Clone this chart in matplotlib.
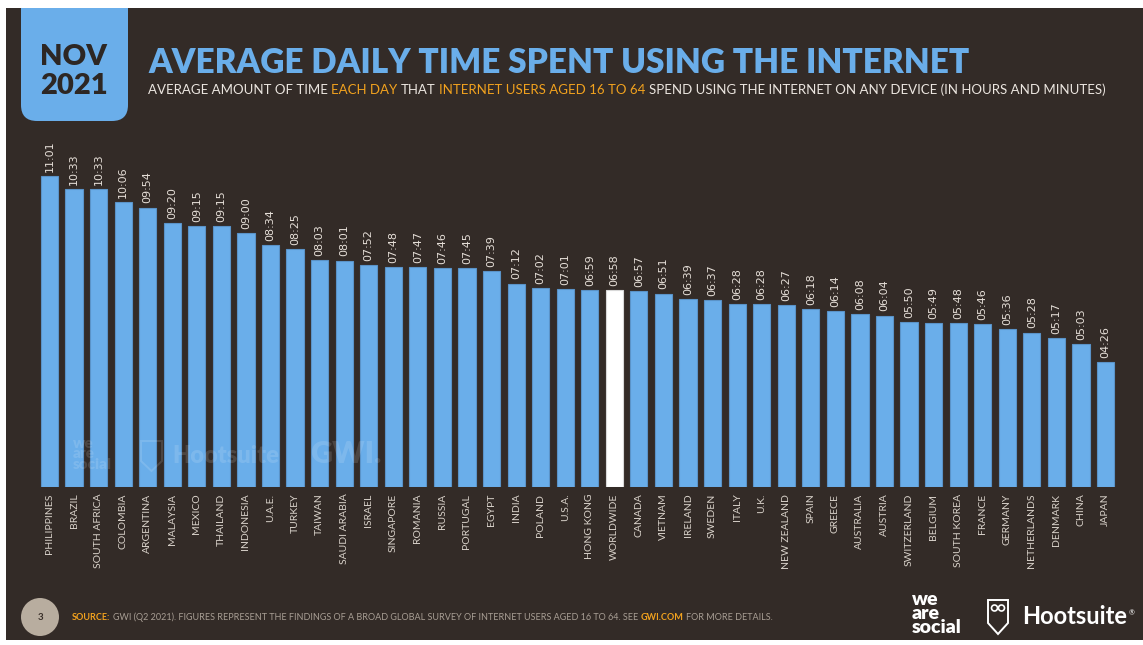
import matplotlib
matplotlib.use('Agg')
import matplotlib.pyplot as plt
from matplotlib.patches import Rectangle, FancyBboxPatch, Circle, Polygon

# data
countries = ['PHILIPPINES', 'BRAZIL', 'SOUTH AFRICA', 'COLOMBIA', 'ARGENTINA', 'MALAYSIA',
             'MEXICO', 'THAILAND', 'INDONESIA', 'U.A.E.', 'TURKEY', 'TAIWAN', 'SAUDI ARABIA',
             'ISRAEL', 'SINGAPORE', 'ROMANIA', 'RUSSIA', 'PORTUGAL', 'EGYPT', 'INDIA', 'POLAND',
             'U.S.A.', 'HONG KONG', 'WORLDWIDE', 'CANADA', 'VIETNAM', 'IRELAND', 'SWEDEN',
             'ITALY', 'U.K.', 'NEW ZEALAND', 'SPAIN', 'GREECE', 'AUSTRALIA', 'AUSTRIA',
             'SWITZERLAND', 'BELGIUM', 'SOUTH KOREA', 'FRANCE', 'GERMANY', 'NETHERLANDS',
             'DENMARK', 'CHINA', 'JAPAN']
times = ['11:01', '10:33', '10:33', '10:06', '09:54', '09:20', '09:15', '09:15', '09:00',
         '08:34', '08:25', '08:03', '08:01', '07:52', '07:48', '07:47', '07:46', '07:45',
         '07:39', '07:12', '07:02', '07:01', '06:59', '06:58', '06:57', '06:51', '06:39',
         '06:37', '06:28', '06:28', '06:27', '06:18', '06:14', '06:08', '06:04', '05:50',
         '05:49', '05:48', '05:46', '05:36', '05:28', '05:17', '05:03', '04:26']
highlight = 'WORLDWIDE'

title = 'AVERAGE DAILY TIME SPENT USING THE INTERNET'
subtitle_parts = [('AVERAGE AMOUNT OF TIME', 'w'), ('EACH DAY', 'o'), ('THAT', 'w'),
                  ('INTERNET USERS AGED 16 TO 64', 'o'),
                  ('SPEND USING THE INTERNET ON ANY DEVICE (IN HOURS AND MINUTES)', 'w')]
source_parts = [('SOURCE:', 'o'),
                ('GWI (Q2 2021). FIGURES REPRESENT THE FINDINGS OF A BROAD GLOBAL SURVEY OF '
                 'INTERNET USERS AGED 16 TO 64. SEE', 'g'),
                ('GWI.COM', 'o'), ('FOR MORE DETAILS.', 'g')]

minutes = [int(t[:2]) * 60 + int(t[3:]) for t in times]

W, H = 1143, 645
BG = '#332b27'
BLUE = '#6aaeea'
ORANGE = '#f2a21e'
LIGHT = '#e6dfd8'
GREY = '#a89e94'
NARROW = ['Liberation Sans Narrow', 'DejaVu Sans Condensed', 'DejaVu Sans']
SANS = ['Lato', 'DejaVu Sans']
cmap = {'w': '#ece6e0', 'o': ORANGE, 'g': GREY}

fig = plt.figure(figsize=(W / 100, H / 100), dpi=100)
fig.patch.set_facecolor('white')

# background layer in pixel coordinates
back = fig.add_axes([0, 0, 1, 1], zorder=0)
back.set_xlim(0, W)
back.set_ylim(H, 0)
back.axis('off')
back.add_patch(Rectangle((6, 8), W - 6, 632, facecolor=BG, edgecolor='none'))
back.add_patch(FancyBboxPatch((21, -40), 107, 161, boxstyle='round,pad=0,rounding_size=16',
                              facecolor=BLUE, edgecolor='none'))
back.add_patch(Rectangle((0, 0), W, 8, facecolor='white', edgecolor='none'))
back.text(74, 57, 'NOV', ha='center', va='center', fontsize=21, fontweight='heavy',
          family=SANS, color='#2d2724')
back.text(74, 86, '2021', ha='center', va='center', fontsize=21, fontweight='heavy',
          family=SANS, color='#2d2724')

renderer = fig.canvas.get_renderer()


def draw_parts(ax, x, y, parts, size, weights, gap_em=0.26):
    arts = []
    cx = x
    for (s, c), wt in zip(parts, weights):
        t = ax.text(cx, y, s, color=cmap[c], fontsize=size, family=SANS, fontweight=wt,
                    ha='left', va='baseline')
        arts.append(t)
        cx += t.get_window_extent(renderer).width + gap_em * size * 100 / 72
    return arts, cx - gap_em * size * 100 / 72 - x


def fit_parts(ax, x, y, parts, target, weights, size0=10):
    arts, w = draw_parts(ax, x, y, parts, size0, weights)
    for a in arts:
        a.remove()
    draw_parts(ax, x, y, parts, size0 * target / w, weights)


# title
t = back.text(148, 73, title, color=BLUE, fontsize=28, family=SANS, fontweight='heavy',
              ha='left', va='baseline')
tw = t.get_window_extent(renderer).width
t.set_fontsize(28 * 820 / tw)

fit_parts(back, 148, 94, subtitle_parts, 952, ['normal'] * 5)
fit_parts(back, 72, 620, source_parts, 698, ['bold', 'normal', 'bold', 'normal'])

# footer page number
back.add_patch(Circle((40, 617), 19, facecolor='#b8ad9f', edgecolor='none'))
back.text(40, 617, '3', ha='center', va='center', fontsize=7, fontweight='bold',
          family=SANS, color='#3a302a')

# logos
back.text(912, 636, 'we\nare\nsocial', ha='left', va='bottom', fontsize=14,
          fontweight='heavy', family=SANS, color='white', linespacing=0.78)
back.add_patch(Polygon([(988, 600), (1008, 600), (1008, 623), (998, 634), (988, 623)],
                       closed=True, facecolor='none', edgecolor='white', linewidth=1.4))
back.add_patch(Circle((994.5, 608), 3, facecolor='none', edgecolor='white', linewidth=1.2))
back.add_patch(Circle((1001.5, 608), 3, facecolor='none', edgecolor='white', linewidth=1.2))
back.text(1022, 624, 'Hootsuite', ha='left', va='baseline', fontsize=17, fontweight='bold',
          family=SANS, color='white')
back.text(1129, 613, '®', ha='left', va='center', fontsize=5, family=SANS, color='white')

# bar chart
ax = fig.add_axes([37.2 / W, 1 - 486.7 / H, 1080.6 / W, 329 / H], zorder=1)
ax.patch.set_alpha(0)
x = range(len(countries))
colors = ['white' if c == highlight else BLUE for c in countries]
edges = ['#d8d8d8' if c == highlight else '#5a93c8' for c in countries]
ax.bar(x, minutes, width=0.7, color=colors, edgecolor=edges, linewidth=0.8)
for xi, m, lab in zip(x, minutes, times):
    ax.annotate(lab, (xi, m), xytext=(0, 3), textcoords='offset points', rotation=90,
                ha='center', va='bottom', fontsize=8, family=NARROW, color=LIGHT)
ax.set_xlim(-0.5, len(countries) - 0.5)
ax.set_ylim(0, 700)
ax.set_xticks(list(x))
ax.set_xticklabels(countries, rotation=90, fontsize=7.5, family=SANS, color='#d9d2ca')
ax.tick_params(axis='x', length=0, pad=5)
ax.set_yticks([])
for s in ax.spines.values():
    s.set_visible(False)

# faint watermark over the bars
front = fig.add_axes([0, 0, 1, 1], zorder=2)
front.set_xlim(0, W)
front.set_ylim(H, 0)
front.axis('off')
front.patch.set_alpha(0)
wm = dict(color='white', alpha=0.13, family=SANS, fontweight='heavy')
front.text(73, 471, 'we\nare\nsocial', va='bottom', linespacing=0.78, fontsize=11, **wm)
front.add_patch(Polygon([(141, 441), (162, 441), (162, 461), (151.5, 471), (141, 461)],
                        closed=True, facecolor='none', edgecolor='white', alpha=0.13,
                        linewidth=1.4))
front.text(172, 463, 'Hootsuite', fontsize=17, va='baseline', **wm)
front.text(310, 463, 'GWI.', fontsize=22, va='baseline', **wm)

fig.savefig('out.png', dpi=100, facecolor='white')
